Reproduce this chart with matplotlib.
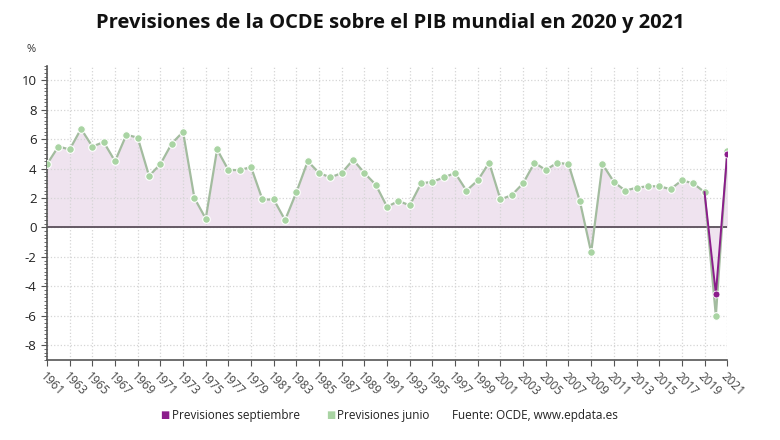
import matplotlib
matplotlib.use("Agg")
import matplotlib.pyplot as plt
import numpy as np

plt.rcParams['font.family'] = ['Open Sans', 'DejaVu Sans']

# datos (crecimiento del PIB mundial, %)
years = list(range(1961, 2022))
junio = [4.3, 5.5, 5.3, 6.7, 5.5, 5.8, 4.5, 6.3, 6.1, 3.5,
         4.3, 5.7, 6.5, 2.0, 0.6, 5.3, 3.9, 3.9, 4.1, 1.9,
         1.9, 0.5, 2.4, 4.5, 3.7, 3.4, 3.7, 4.6, 3.7, 2.9,
         1.4, 1.8, 1.5, 3.0, 3.1, 3.4, 3.7, 2.5, 3.2, 4.4,
         1.9, 2.2, 3.0, 4.4, 3.9, 4.4, 4.3, 1.8, -1.7, 4.3,
         3.1, 2.5, 2.7, 2.8, 2.8, 2.6, 3.2, 3.0, 2.4, -6.0, 5.2]
sept_years = [2019, 2020, 2021]
septiembre = [2.4, -4.5, 5.0]
xticks = list(range(1961, 2022, 2))
yticks = list(range(-8, 11, 2))

c_sept = '#8b1d8b'
c_jun = '#a9d4a3'
c_line = '#a3bc9f'
c_fill = '#efe3ef'

fig = plt.figure(figsize=(7.8, 4.4), dpi=100)
ax = fig.add_axes([0.0603, 0.182, 0.872, 0.669])

ax.fill_between(years, junio, 0, color=c_fill, lw=0, zorder=1)
ax.fill_between(sept_years, septiembre, 0, color=c_fill, lw=0, zorder=1)
ax.plot(years, junio, color=c_line, lw=1.6, zorder=3,
        marker='o', ms=5.5, mfc=c_jun, mec='white', mew=0.8)
ax.plot(sept_years, septiembre, color=c_sept, lw=1.4, zorder=4)
ax.plot(sept_years[1:], septiembre[1:], ls='none', marker='o', ms=5,
        mfc=c_sept, mec='white', mew=0.6, zorder=5)

ax.axhline(0, color='#5a4f5a', lw=1.3, zorder=2)

ax.set_xlim(1961, 2021)
ax.set_ylim(-9, 11)
ax.set_xticks(xticks)
ax.set_xticklabels([str(y) for y in xticks], rotation=-45, ha='left',
                   rotation_mode='anchor', fontsize=8.5, color='#444444')
ax.set_yticks(yticks)
ax.set_yticklabels([str(y) for y in yticks], fontsize=9.5, color='#222222')
ax.set_yticks(np.arange(-9, 11.01, 0.25), minor=True)
ax.tick_params(axis='y', which='minor', length=2, width=0.6, color='#555555')
ax.tick_params(axis='y', which='major', length=4, color='#555555')
ax.tick_params(axis='x', length=4, color='#555555')

ax.grid(True, color='#d5d5d5', ls=':', lw=0.9, zorder=0)
for s in ['top', 'right']:
    ax.spines[s].set_visible(False)
for s in ['left', 'bottom']:
    ax.spines[s].set_color('#555555')
    ax.spines[s].set_linewidth(1.2)

fig.text(0.5, 0.948, 'Previsiones de la OCDE sobre el PIB mundial en 2020 y 2021',
         ha='center', va='center', fontsize=14.5, fontweight='bold', color='#111111')
fig.text(0.034, 0.882, '%', fontsize=8, color='#333333')

# leyenda
fig.text(0.205, 0.056, '■', color=c_sept, fontsize=7, va='center')
fig.text(0.220, 0.056, 'Previsiones septiembre', fontsize=8.5, va='center', color='#222222')
fig.text(0.418, 0.056, '■', color=c_jun, fontsize=7, va='center')
fig.text(0.432, 0.056, 'Previsiones junio', fontsize=8.5, va='center', color='#222222')
fig.text(0.579, 0.056, 'Fuente: OCDE, www.epdata.es', fontsize=8.5, va='center', color='#222222')

fig.savefig('out.png', dpi=100, facecolor='white')
